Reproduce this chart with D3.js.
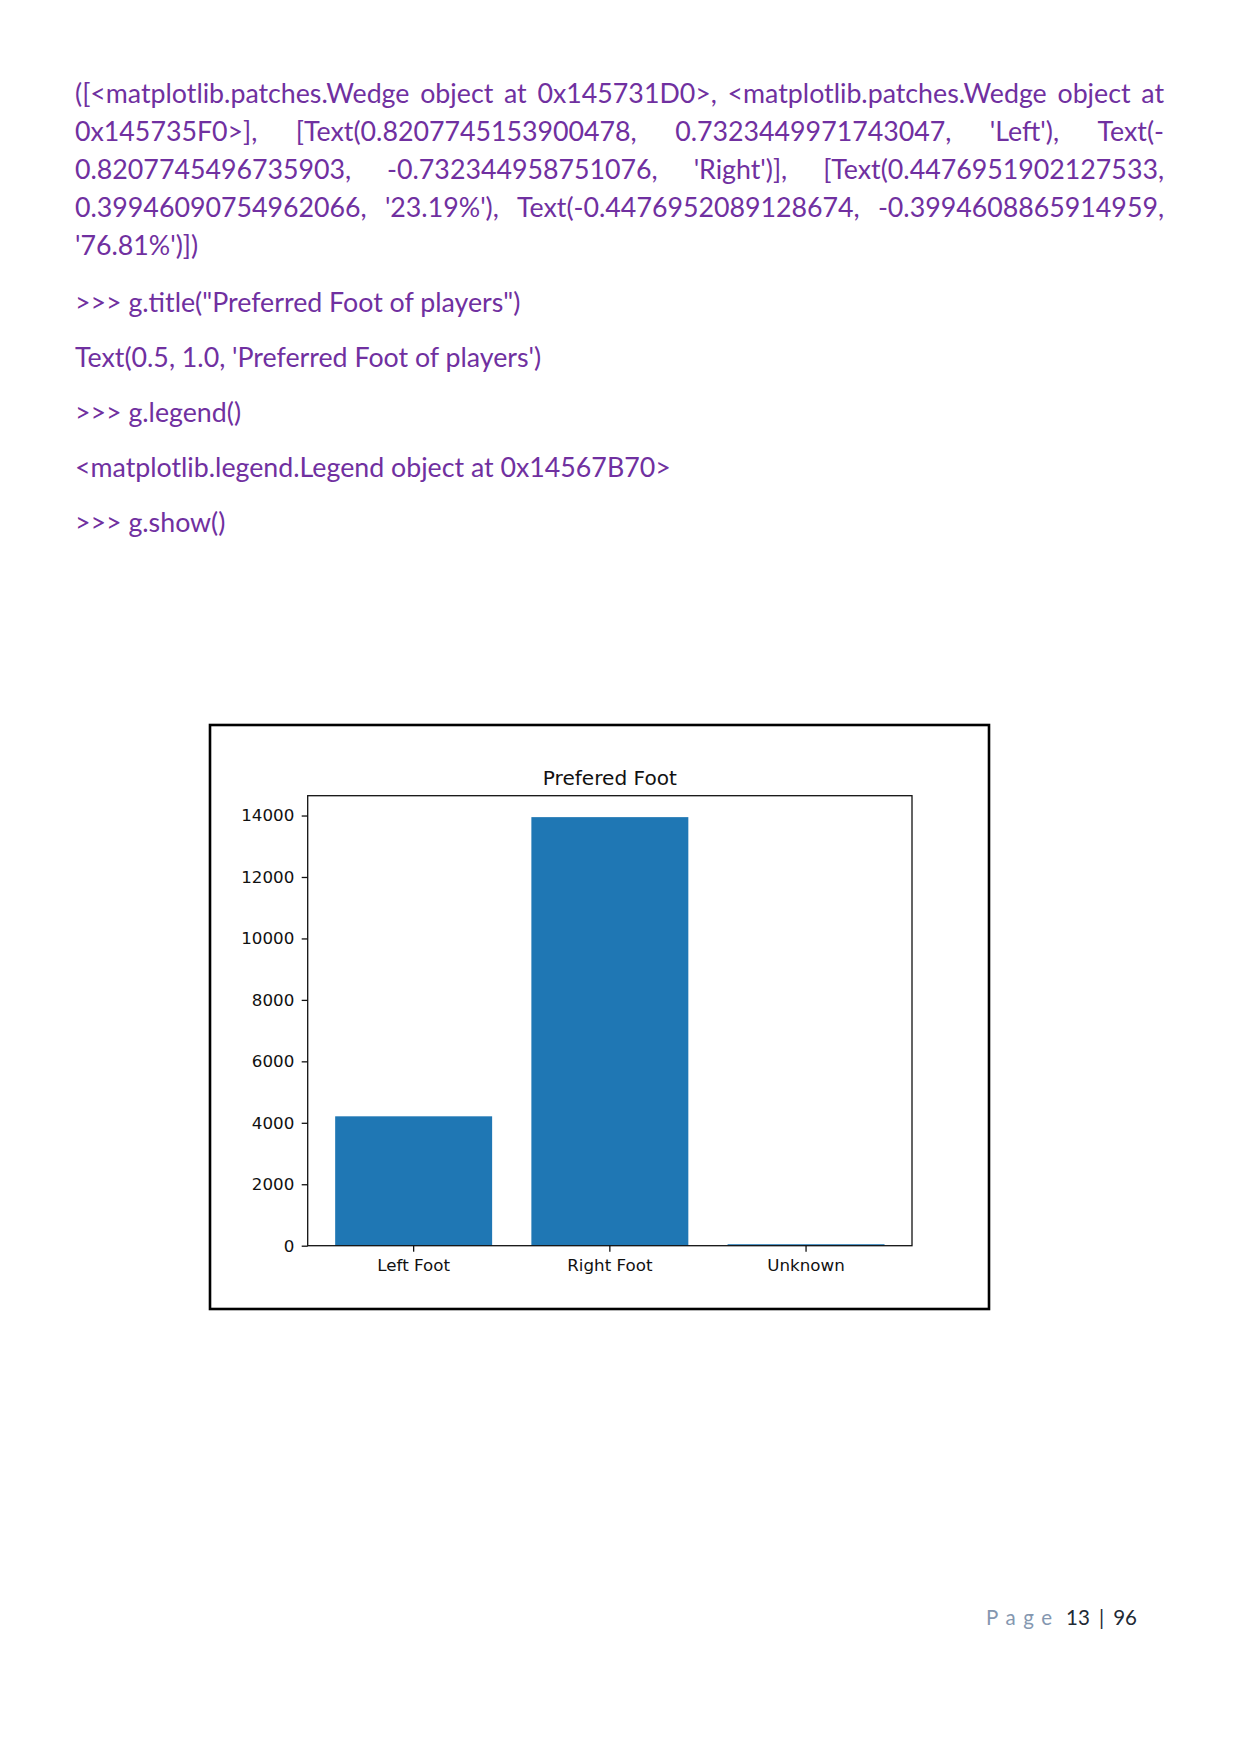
<!DOCTYPE html>
<html>
<head>
<meta charset="utf-8">
<script src="https://cdn.jsdelivr.net/npm/d3@7"></script>
<style>
  html, body { margin: 0; padding: 0; background: #fff; }
  svg { display: block; }
</style>
</head>
<body>
<div id="page"></div>
<script>
// chart data
const categories = ["Left Foot", "Right Foot", "Unknown"];
const counts = [4211, 13948, 48];
const yTicks = [0, 2000, 4000, 6000, 8000, 10000, 12000, 14000];
const chartTitle = "Prefered Foot";

// page text
const outputLines = [
  "([<matplotlib.patches.Wedge object at 0x145731D0>, <matplotlib.patches.Wedge object at",
  "0x145735F0>], [Text(0.8207745153900478, 0.7323449971743047, 'Left'), Text(-",
  "0.8207745496735903, -0.732344958751076, 'Right')], [Text(0.4476951902127533,",
  "0.39946090754962066, '23.19%'), Text(-0.4476952089128674, -0.3994608865914959,",
  "'76.81%')])"
];
const sessionLines = [
  ">>> g.title(\"Preferred Foot of players\")",
  "Text(0.5, 1.0, 'Preferred Foot of players')",
  ">>> g.legend()",
  "<matplotlib.legend.Legend object at 0x14567B70>",
  ">>> g.show()"
];
const pageWord = "Page";
const pageNumbers = "13 | 96";

function drawPage() {
  const svg = d3.select("#page")
    .append("svg")
    .attr("width", 1240)
    .attr("height", 1754);

  svg.append("rect")
    .attr("width", 1240)
    .attr("height", 1754)
    .attr("fill", "#fff");

  const purple = "#7030a0";
  const bodyFont = "Lato, 'Open Sans', sans-serif";
  const textLeft = 75;
  const textRight = 1164;

  // size the body font so the legend line has the width it has in the picture
  const probe = svg.append("text")
    .attr("font-family", bodyFont)
    .attr("font-size", 100)
    .text(sessionLines[3]);
  const bodySize = 100 * 596 / probe.node().getComputedTextLength();
  probe.remove();

  const body = svg.append("g")
    .attr("font-family", bodyFont)
    .attr("font-size", bodySize)
    .attr("fill", purple);

  // justified block: last line is left aligned
  outputLines.forEach((line, i) => {
    const baseline = 103.3 + i * 37.9;
    const g = body.append("g");
    if (i === outputLines.length - 1) {
      g.append("text").attr("x", textLeft).attr("y", baseline).text(line);
      return;
    }
    const words = line.split(" ");
    const nodes = words.map(w => g.append("text").attr("y", baseline).text(w));
    const widths = nodes.map(n => n.node().getComputedTextLength());
    const gap = (textRight - textLeft - d3.sum(widths)) / (words.length - 1);
    let cx = textLeft;
    nodes.forEach((n, j) => {
      n.attr("x", cx);
      cx += widths[j] + gap;
    });
  });

  sessionLines.forEach((line, i) => {
    body.append("text")
      .attr("x", textLeft)
      .attr("y", 311.7 + i * 55)
      .text(line);
  });

  // footer
  const footSize = 20.5;
  const nums = svg.append("text")
    .attr("x", 1066)
    .attr("y", 1625)
    .attr("font-family", bodyFont)
    .attr("font-size", footSize)
    .attr("fill", "#222a35")
    .text(pageNumbers);
  const numsW = nums.node().getComputedTextLength();
  nums.attr("word-spacing", Math.max(0, (71 - numsW) / 2));

  const pw = svg.append("text")
    .attr("x", 986)
    .attr("y", 1625)
    .attr("font-family", bodyFont)
    .attr("font-size", footSize)
    .attr("fill", "#8497b0")
    .text(pageWord);
  const natural = pw.node().getComputedTextLength();
  pw.attr("letter-spacing", (66 - natural) / (pageWord.length - 1));

  // ---- matplotlib figure ----
  const frame = { left: 210, top: 725, right: 989, bottom: 1309 };
  const plot = { left: 307.7, top: 795.7, right: 912, bottom: 1245.7 };
  const ink = "#111";
  const chartFont = "'DejaVu Sans', sans-serif";

  const x = d3.scaleBand()
    .domain(categories)
    .range([plot.left, plot.right])
    .paddingInner(0.2)
    .paddingOuter(0.14);

  const y = d3.scaleLinear()
    .domain([0, d3.max(counts) * 1.05])
    .range([plot.bottom, plot.top]);

  const fig = svg.append("g");

  fig.selectAll(".bar")
    .data(categories)
    .enter().append("rect")
      .attr("class", "bar")
      .attr("x", d => x(d))
      .attr("y", (d, i) => y(counts[i]))
      .attr("width", x.bandwidth())
      .attr("height", (d, i) => y(0) - y(counts[i]))
      .attr("fill", "#1f77b4");

  const yAxis = fig.append("g")
    .attr("transform", `translate(${plot.left},0)`)
    .call(d3.axisLeft(y)
      .tickValues(yTicks)
      .tickSize(6)
      .tickPadding(7.4)
      .tickFormat(d3.format("d")));

  const xAxis = fig.append("g")
    .attr("transform", `translate(0,${plot.bottom})`)
    .call(d3.axisBottom(x)
      .tickSize(6)
      .tickPadding(7.5));

  [yAxis, xAxis].forEach(ax => {
    ax.select(".domain").remove();
    ax.selectAll(".tick line").attr("stroke", ink).attr("stroke-width", 1.3);
    ax.selectAll(".tick text")
      .attr("fill", ink)
      .attr("font-family", chartFont)
      .attr("font-size", 16.7);
  });

  fig.append("rect")
    .attr("x", plot.left)
    .attr("y", plot.top)
    .attr("width", plot.right - plot.left)
    .attr("height", plot.bottom - plot.top)
    .attr("fill", "none")
    .attr("stroke", ink)
    .attr("stroke-width", 1.3);

  fig.append("text")
    .attr("x", (plot.left + plot.right) / 2)
    .attr("y", 785)
    .attr("text-anchor", "middle")
    .attr("font-family", chartFont)
    .attr("font-size", 20.1)
    .attr("fill", ink)
    .text(chartTitle);

  fig.append("rect")
    .attr("x", frame.left)
    .attr("y", frame.top)
    .attr("width", frame.right - frame.left)
    .attr("height", frame.bottom - frame.top)
    .attr("fill", "none")
    .attr("stroke", "#000")
    .attr("stroke-width", 2.6);
}

drawPage();
</script>
</body>
</html>
